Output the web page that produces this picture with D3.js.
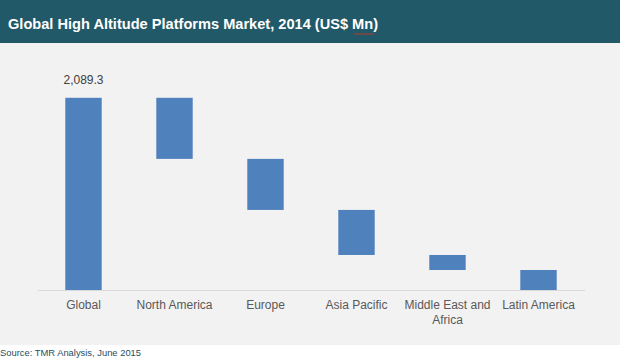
<!DOCTYPE html>
<html>
<head>
<meta charset="utf-8">
<script src="https://cdn.jsdelivr.net/npm/d3@7"></script>
<style>
  html, body { margin: 0; padding: 0; background: #ffffff; }
  svg { display: block; font-family: "Liberation Sans", Arial, sans-serif; }
</style>
</head>
<body>
<svg id="chart" width="621" height="360"></svg>
<script>
const title = "Global High Altitude Platforms Market, 2014 (US$ Mn)";
const source = "Source: TMR Analysis, June 2015";
const categories = ["Global", "North America", "Europe", "Asia Pacific", "Middle East and Africa", "Latin America"];
const totalValue = 2089.3;
const regionValues = [664.2, 554.8, 489.6, 163.3, 217.4];
const yDomain = [0, 2500];

// Build waterfall segments: total bar, then each region stepping down
const segments = [];
segments.push({ cat: categories[0], y0: 0, y1: totalValue, total: true });
let level = totalValue;
regionValues.forEach((v, i) => {
  segments.push({ cat: categories[i + 1], y0: level - v, y1: level, total: false });
  level -= v;
});

const svg = d3.select("#chart");
const W = 621, H = 360;

// background panels
svg.append("rect").attr("x", 0).attr("y", 0).attr("width", 620).attr("height", 345).attr("fill", "#F2F2F2");
svg.append("rect").attr("x", 0).attr("y", 0).attr("width", 620).attr("height", 43).attr("fill", "#215968");

svg.append("text")
  .attr("x", 8).attr("y", 29)
  .attr("fill", "#ffffff")
  .attr("font-size", "14.6px")
  .attr("font-weight", "bold")
  .text(title);

// spell-check squiggle under "Mn"
const sq = d3.path();
sq.moveTo(354, 34.5);
for (let x = 354; x < 374; x += 2) {
  sq.lineTo(x + 1, 33.5);
  sq.lineTo(x + 2, 34.5);
}
svg.append("path").attr("d", sq.toString()).attr("fill", "none").attr("stroke", "#E0301E").attr("stroke-width", 0.9);

const x = d3.scaleBand().domain(categories).range([38, 584]).paddingInner(0.6).paddingOuter(0.3);
const y = d3.scaleLinear().domain(yDomain).range([290, 60]);

svg.append("g").selectAll("rect")
  .data(segments)
  .join("rect")
  .attr("x", d => x(d.cat))
  .attr("width", x.bandwidth())
  .attr("y", d => y(d.y1))
  .attr("height", d => y(d.y0) - y(d.y1))
  .attr("fill", "#4F81BD");

// axis baseline
svg.append("line")
  .attr("x1", 38).attr("x2", 585)
  .attr("y1", y(0) + 0.5).attr("y2", y(0) + 0.5)
  .attr("stroke", "#D9D9D9").attr("stroke-width", 1);

// value label on total bar
svg.append("text")
  .attr("x", x(categories[0]) + x.bandwidth() / 2)
  .attr("y", y(totalValue) - 14)
  .attr("text-anchor", "middle")
  .attr("font-size", "12px")
  .attr("fill", "#404040")
  .text(d3.format(",.1f")(totalValue));

// category labels
const labelLines = { "Middle East and Africa": ["Middle East and", "Africa"] };
const lab = svg.append("g");
categories.forEach(c => {
  const lines = labelLines[c] || [c];
  const t = lab.append("text")
    .attr("text-anchor", "middle")
    .attr("font-size", "12px")
    .attr("fill", "#595959");
  lines.forEach((ln, i) => {
    t.append("tspan")
      .attr("x", x(c) + x.bandwidth() / 2)
      .attr("y", 309 + i * 14.5)
      .text(ln);
  });
});

svg.append("text")
  .attr("x", 0).attr("y", 356)
  .attr("font-size", "9.4px")
  .attr("fill", "#1F4E5F")
  .text(source);
</script>
</body>
</html>
